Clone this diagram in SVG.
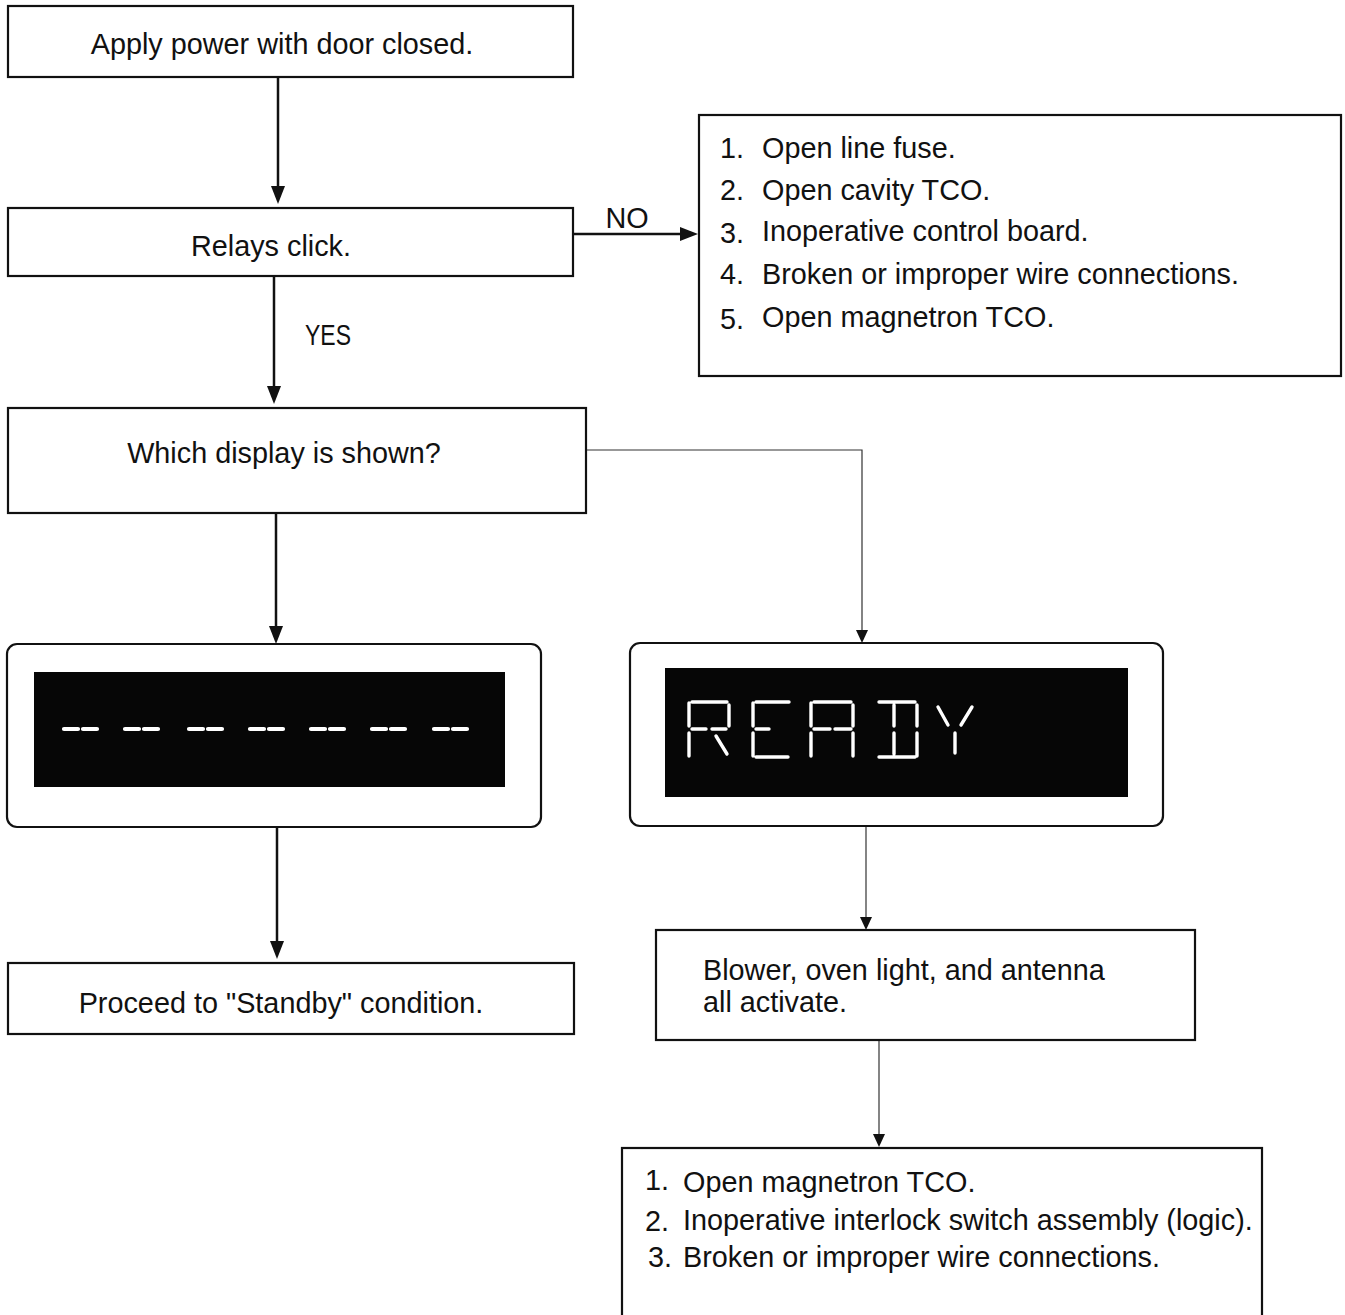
<svg xmlns="http://www.w3.org/2000/svg" width="1345" height="1315" viewBox="0 0 1345 1315">
<style>
  .box{fill:#fff;stroke:#111;stroke-width:2.2}
  .t{font-family:"Liberation Sans",Arial,sans-serif;font-size:28.8px;fill:#111}
  .c{text-anchor:middle}
  .thick{stroke:#111;stroke-width:2.5;fill:none}
  .thin{stroke:#333;stroke-width:1.2;fill:none}
  .lcd{fill:#060606}
  .seg{stroke:#fff;stroke-width:3.4;stroke-linecap:round;fill:none}
  .dash{stroke:#fff;stroke-width:4.2;stroke-linecap:round;fill:none}
</style>

<g id="connectors">
  <!-- Apply -> Relays -->
  <line class="thick" x1="278" y1="77" x2="278" y2="186"/>
  <path d="M271,186 L285,186 L278,204 Z" fill="#111"/>
  <!-- Relays -> list (NO) -->
  <line class="thick" x1="573" y1="234" x2="682" y2="234"/>
  <path d="M680,227 L680,241 L698,234 Z" fill="#111"/>
  <text class="t c" x="627" y="228">NO</text>
  <!-- Relays -> Which (YES) -->
  <line class="thick" x1="274" y1="276" x2="274" y2="387"/>
  <path d="M267,386 L281,386 L274,404 Z" fill="#111"/>
  <text class="t" x="305" y="345" textLength="46" lengthAdjust="spacingAndGlyphs">YES</text>
  <!-- Which -> dashes display -->
  <line class="thick" x1="276" y1="513" x2="276" y2="627"/>
  <path d="M269,626 L283,626 L276,644 Z" fill="#111"/>
  <!-- Which -> READY display -->
  <polyline class="thin" points="586,450 862,450 862,630"/>
  <path d="M856,630 L868,630 L862,643 Z" fill="#111"/>
  <!-- dashes display -> Standby -->
  <line class="thick" x1="277" y1="827" x2="277" y2="942"/>
  <path d="M270,941 L284,941 L277,959 Z" fill="#111"/>
  <!-- READY -> Blower -->
  <line class="thin" x1="866" y1="826" x2="866" y2="917"/>
  <path d="M860,917 L872,917 L866,930 Z" fill="#111"/>
  <!-- Blower -> list -->
  <line class="thin" x1="879" y1="1040" x2="879" y2="1135"/>
  <path d="M873,1134 L885,1134 L879,1147 Z" fill="#111"/>
</g>

<g id="n-apply">
  <rect class="box" x="8" y="6" width="565" height="71"/>
  <text class="t c" x="282" y="54">Apply power with door closed.</text>
</g>

<g id="n-relays">
  <rect class="box" x="8" y="208" width="565" height="68"/>
  <text class="t c" x="271" y="256">Relays click.</text>
</g>

<g id="n-causes1">
  <rect class="box" x="699" y="115" width="642" height="261"/>
  <text class="t" x="720" y="158">1.</text><text class="t" x="762" y="158">Open line fuse.</text>
  <text class="t" x="720" y="200">2.</text><text class="t" x="762" y="200">Open cavity TCO.</text>
  <text class="t" x="720" y="243">3.</text><text class="t" x="762" y="241">Inoperative control board.</text>
  <text class="t" x="720" y="284">4.</text><text class="t" x="762" y="284">Broken or improper wire connections.</text>
  <text class="t" x="720" y="329">5.</text><text class="t" x="762" y="327">Open magnetron TCO.</text>
</g>

<g id="n-which">
  <rect class="box" x="8" y="408" width="578" height="105"/>
  <text class="t c" x="284" y="463">Which display is shown?</text>
</g>

<g id="n-display-dashes">
  <rect class="box" x="7" y="644" width="534" height="183" rx="10"/>
  <rect class="lcd" x="34" y="672" width="471" height="115"/>
  <g class="dash">
    <path d="M64,729 H78 M83,729 H97"/>
    <path d="M125,729 H139 M144,729 H158"/>
    <path d="M189,729 H203 M208,729 H222"/>
    <path d="M250,729 H264 M269,729 H283"/>
    <path d="M311,729 H325 M330,729 H344"/>
    <path d="M372,729 H386 M391,729 H405"/>
    <path d="M434,729 H448 M453,729 H467"/>
  </g>
</g>

<g id="n-display-ready">
  <rect class="box" x="630" y="643" width="533" height="183" rx="10"/>
  <rect class="lcd" x="665" y="668" width="463" height="129"/>
  <g class="seg">
    <!-- R -->
    <path d="M689,703 V726 M689,733 V756 M692,702 H727 M729,705 V726 M692,729 H706 M712,729 H726 M716,736 L727,754"/>
    <!-- E -->
    <path d="M753,703 V726 M753,733 V756 M756,702 H789 M756,729 H769 M756,757 H788"/>
    <!-- A -->
    <path d="M811,703 V726 M811,733 V756 M814,702 H851 M853,705 V726 M853,733 V756 M814,729 H830 M835,729 H851"/>
    <!-- D -->
    <path d="M879,702 H915 M917,705 V726 M917,733 V756 M894,705 V726 M894,733 V754 M879,757 H915"/>
    <!-- Y -->
    <path d="M938,707 L948,725 M972,707 L961,725 M955,733 V753"/>
  </g>
</g>

<g id="n-standby">
  <rect class="box" x="8" y="963" width="566" height="71"/>
  <text class="t c" x="281" y="1013">Proceed to "Standby" condition.</text>
</g>

<g id="n-blower">
  <rect class="box" x="656" y="930" width="539" height="110"/>
  <text class="t" x="703" y="980">Blower, oven light, and antenna</text>
  <text class="t" x="703" y="1012">all activate.</text>
</g>

<g id="n-causes2">
  <rect class="box" x="622" y="1148" width="640" height="200"/>
  <text class="t" x="645" y="1190">1.</text><text class="t" x="683" y="1192">Open magnetron TCO.</text>
  <text class="t" x="645" y="1231">2.</text><text class="t" x="683" y="1230">Inoperative interlock switch assembly (logic).</text>
  <text class="t" x="648" y="1267">3.</text><text class="t" x="683" y="1267">Broken or improper wire connections.</text>
</g>
</svg>
